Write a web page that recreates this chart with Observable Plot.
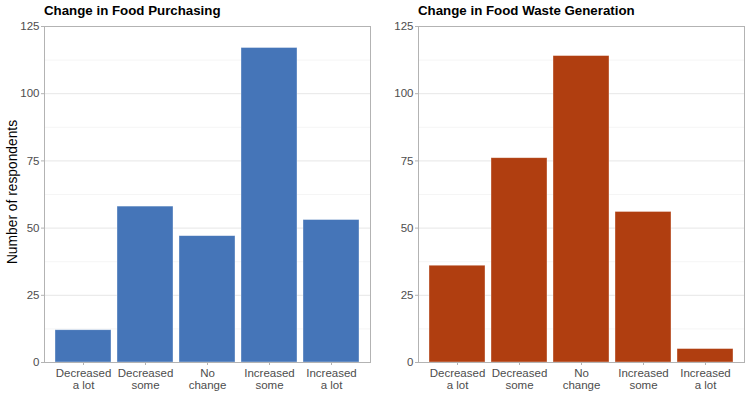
<!DOCTYPE html>
<html>
<head>
<meta charset="utf-8">
<script src="https://cdn.jsdelivr.net/npm/d3@7"></script>
<script src="https://cdn.jsdelivr.net/npm/@observablehq/plot@0.6"></script>
<style>
  body { margin: 0; background: #fff; font-family: "Liberation Sans", Arial, sans-serif; }
  #wrap { display: flex; width: 750px; height: 409px; position: relative; }
  .panel { width: 375px; position: relative; }
  .title { height: 20px; font-weight: bold; font-size: 13.3px; line-height: 21px; color: #000; white-space: nowrap; }
  .panel svg { display: block; }
  #ylab { position: absolute; left: 12px; top: 192px; transform: translate(-50%, -50%) rotate(-90deg); font-size: 13.8px; color: #000; white-space: nowrap; }
</style>
</head>
<body>
<div id="wrap">
  <div class="panel" id="p1"><div class="title" style="padding-left:44px">Change in Food Purchasing</div></div>
  <div class="panel" id="p2"><div class="title" style="padding-left:43px">Change in Food Waste Generation</div></div>
  <div id="ylab">Number of respondents</div>
</div>
<script>
const categories = ["Decreased\na lot", "Decreased\nsome", "No\nchange", "Increased\nsome", "Increased\na lot"];
const purchasing = [12, 58, 47, 117, 53];
const waste = [36, 76, 114, 56, 5];
const yTicks = [0, 25, 50, 75, 100, 125];
const minorTicks = [12.5, 37.5, 62.5, 87.5, 112.5];

function panel(values, color, ml, mr) {
  const data = categories.map((c, i) => ({cat: c, n: values[i]}));
  return Plot.plot({
    width: 375,
    height: 389,
    marginTop: 6,
    marginBottom: 47,
    marginLeft: ml,
    marginRight: mr,
    style: {fontFamily: "Liberation Sans, Arial, sans-serif", fontSize: "11.5px", color: "#4d4d4d", background: "#fff"},
    x: {domain: categories, paddingInner: 0.1, paddingOuter: 0.15, label: null},
    y: {domain: [0, 125], label: null},
    marks: [
      Plot.ruleY(minorTicks, {stroke: "#ebebeb", strokeWidth: 0.5}),
      Plot.ruleY(yTicks, {stroke: "#e0e0e0", strokeWidth: 0.8}),
      Plot.barY(data, {x: "cat", y: "n", fill: color, stroke: "#ffffff", strokeOpacity: 0.5, strokeWidth: 0.7}),
      Plot.frame({stroke: "#b3b3b3", strokeWidth: 1}),
      Plot.axisY({ticks: yTicks, tickSize: 3, tickPadding: 2, stroke: "#b3b3b3", fill: "#4d4d4d", label: null}),
      Plot.axisX({tickSize: 3, tickPadding: 3, stroke: "#b3b3b3", fill: "#4d4d4d", label: null, lineHeight: 1.05})
    ]
  });
}

document.getElementById("p1").appendChild(panel(purchasing, "#4575b8", 44, 5));
document.getElementById("p2").appendChild(panel(waste, "#b03e10", 43, 6));
</script>
</body>
</html>
